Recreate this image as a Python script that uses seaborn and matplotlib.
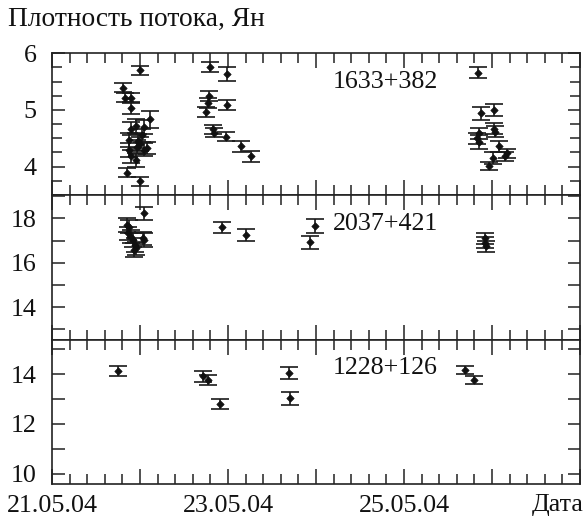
import matplotlib
matplotlib.use("Agg")
import matplotlib.pyplot as plt
import seaborn as sns
import pandas as pd
from matplotlib.ticker import MultipleLocator, FixedLocator

sns.set_theme(style="ticks")
SERIF = "Liberation Serif"
plt.rcParams['font.family'] = SERIF

# ---- data: day of May 2004 (fractional), flux density (Jy), error (Jy) ----
src1_name = "1633+382"
src1_day = [22.00, 21.81, 21.83, 21.90, 21.90, 22.11, 21.90, 21.96, 22.04, 21.88,
            21.98, 21.97, 21.88, 22.05, 22.08, 21.90, 21.95, 22.00, 22.02, 21.85, 22.00,
            22.79, 22.99, 22.78, 22.77, 22.75, 22.99, 22.83, 22.84, 22.98, 23.15, 23.26,
            25.84, 26.02, 25.88, 26.02, 26.03, 25.85, 25.83, 25.85, 26.08, 26.17, 26.15,
            26.01, 25.97]
src1_flux = [5.70, 5.39, 5.22, 5.22, 5.03, 4.84, 4.67, 4.72, 4.70, 4.47,
             4.45, 4.35, 4.29, 4.30, 4.33, 4.18, 4.12, 4.40, 4.55, 3.89, 3.74,
             5.76, 5.63, 5.24, 5.12, 4.97, 5.09, 4.66, 4.60, 4.53, 4.36, 4.18,
             5.66, 5.00, 4.94, 4.67, 4.62, 4.59, 4.50, 4.44, 4.36, 4.24, 4.18,
             4.15, 4.01]
src1_err = [0.08, 0.08, 0.08, 0.08, 0.10, 0.15, 0.12, 0.12, 0.12, 0.12,
            0.12, 0.12, 0.12, 0.12, 0.10, 0.12, 0.12, 0.12, 0.12, 0.08, 0.08,
            0.09, 0.12, 0.09, 0.09, 0.09, 0.09, 0.08, 0.08, 0.08, 0.10, 0.10,
            0.10, 0.10, 0.12, 0.10, 0.10, 0.10, 0.10, 0.12, 0.10, 0.08, 0.08,
            0.10, 0.07]

src2_name = "2037+421"
src2_day = [22.04, 21.85, 21.88, 21.86, 21.90, 21.92, 21.94, 21.93, 21.96, 22.03, 22.05,
            22.93, 23.20, 23.93, 23.99, 25.92, 25.92, 25.93]
src2_flux = [18.22, 17.70, 17.62, 17.33, 17.17, 17.02, 16.80, 16.57, 16.65, 17.10, 17.02,
             17.60, 17.25, 16.92, 17.65, 17.10, 16.90, 16.75]
src2_err = [0.30, 0.30, 0.30, 0.30, 0.30, 0.30, 0.30, 0.30, 0.30, 0.30, 0.30,
            0.25, 0.28, 0.28, 0.33, 0.25, 0.25, 0.25]

src3_name = "1228+126"
src3_day = [21.75, 22.72, 22.77, 22.91, 23.69, 23.70, 25.69, 25.79]
src3_flux = [14.13, 13.91, 13.77, 12.82, 14.04, 13.03, 14.17, 13.77]
src3_err = [0.19, 0.22, 0.22, 0.20, 0.25, 0.25, 0.15, 0.15]

x_ticks = [21, 22, 23, 24, 25, 26, 27]
x_tick_labels = ["21.05.04", "", "23.05.04", "", "25.05.04", "", ""]
y_label = "Плотность потока, Ян"
x_label = "Дата"

panels = [
    dict(name=src1_name, day=src1_day, flux=src1_flux, err=src1_err,
         ylim=(3.5, 6.0), minor=0.25, ticks=[4, 5, 6]),
    dict(name=src2_name, day=src2_day, flux=src2_flux, err=src2_err,
         ylim=(12.55, 19.05), minor=1.0, ticks=[14, 16, 18]),
    dict(name=src3_name, day=src3_day, flux=src3_flux, err=src3_err,
         ylim=(9.6, 15.4), minor=1.0, ticks=[10, 12, 14]),
]

W, H = 587, 518
fig = plt.figure(figsize=(W / 100, H / 100), dpi=100)
left = 52 / W
width = 528 / W
bounds = [(53.3, 195.0), (195.0, 339.5), (339.5, 483.5)]
FS = 18.7
TXT = "#111111"

for i, (p, (top, bot)) in enumerate(zip(panels, bounds)):
    ax = fig.add_axes([left, 1 - bot / H, width, (bot - top) / H])
    ax.set_facecolor("white")
    df = pd.DataFrame({"day": p["day"], "flux": p["flux"], "err": p["err"]})
    ax.errorbar(df["day"], df["flux"], yerr=df["err"], fmt="none",
                ecolor="#1a1a1a", elinewidth=1.2, capsize=6.5, capthick=1.2, zorder=2)
    sns.scatterplot(data=df, x="day", y="flux", ax=ax, marker="D", s=14,
                    color="#111111", edgecolor="#111111", linewidth=0.5, zorder=3,
                    legend=False)
    ax.set_xlim(21, 27)
    ax.set_ylim(*p["ylim"])
    ax.set_xlabel("")
    ax.set_ylabel("")
    ax.xaxis.set_major_locator(FixedLocator(x_ticks))
    ax.xaxis.set_minor_locator(MultipleLocator(0.2))
    ax.yaxis.set_major_locator(FixedLocator(p["ticks"]))
    ax.yaxis.set_minor_locator(MultipleLocator(p["minor"]))
    ax.set_yticklabels([str(t) for t in p["ticks"]], fontfamily=SERIF,
                       fontsize=FS, color=TXT)
    if i == 2:
        ax.set_xticklabels(x_tick_labels, fontfamily=SERIF, fontsize=FS, color=TXT)
    else:
        ax.set_xticklabels([""] * len(x_ticks))
    ax.tick_params(axis="both", which="both", direction="in", top=True, right=True,
                   color="#222222", width=1.1)
    ax.tick_params(axis="x", which="major", length=11, pad=8)
    ax.tick_params(axis="x", which="minor", length=7)
    ax.tick_params(axis="y", which="major", length=9, pad=11)
    ax.tick_params(axis="y", which="minor", length=7 if i == 0 else 9)
    for s in ax.spines.values():
        s.set_linewidth(1.2)
        s.set_color("#222222")
    ax.text(0.532, 0.80, p["name"], transform=ax.transAxes, fontsize=FS,
            fontfamily=SERIF, ha="left", va="center", color=TXT)

fig.text(8 / W, 1 - 19 / H, y_label, fontsize=19.8, fontfamily=SERIF,
         ha="left", va="center", color=TXT)
fig.text(584 / W, 1 - 505 / H, x_label, fontsize=FS, fontfamily=SERIF,
         ha="right", va="center", color=TXT)

fig.savefig("out.png", dpi=100, facecolor="white")
